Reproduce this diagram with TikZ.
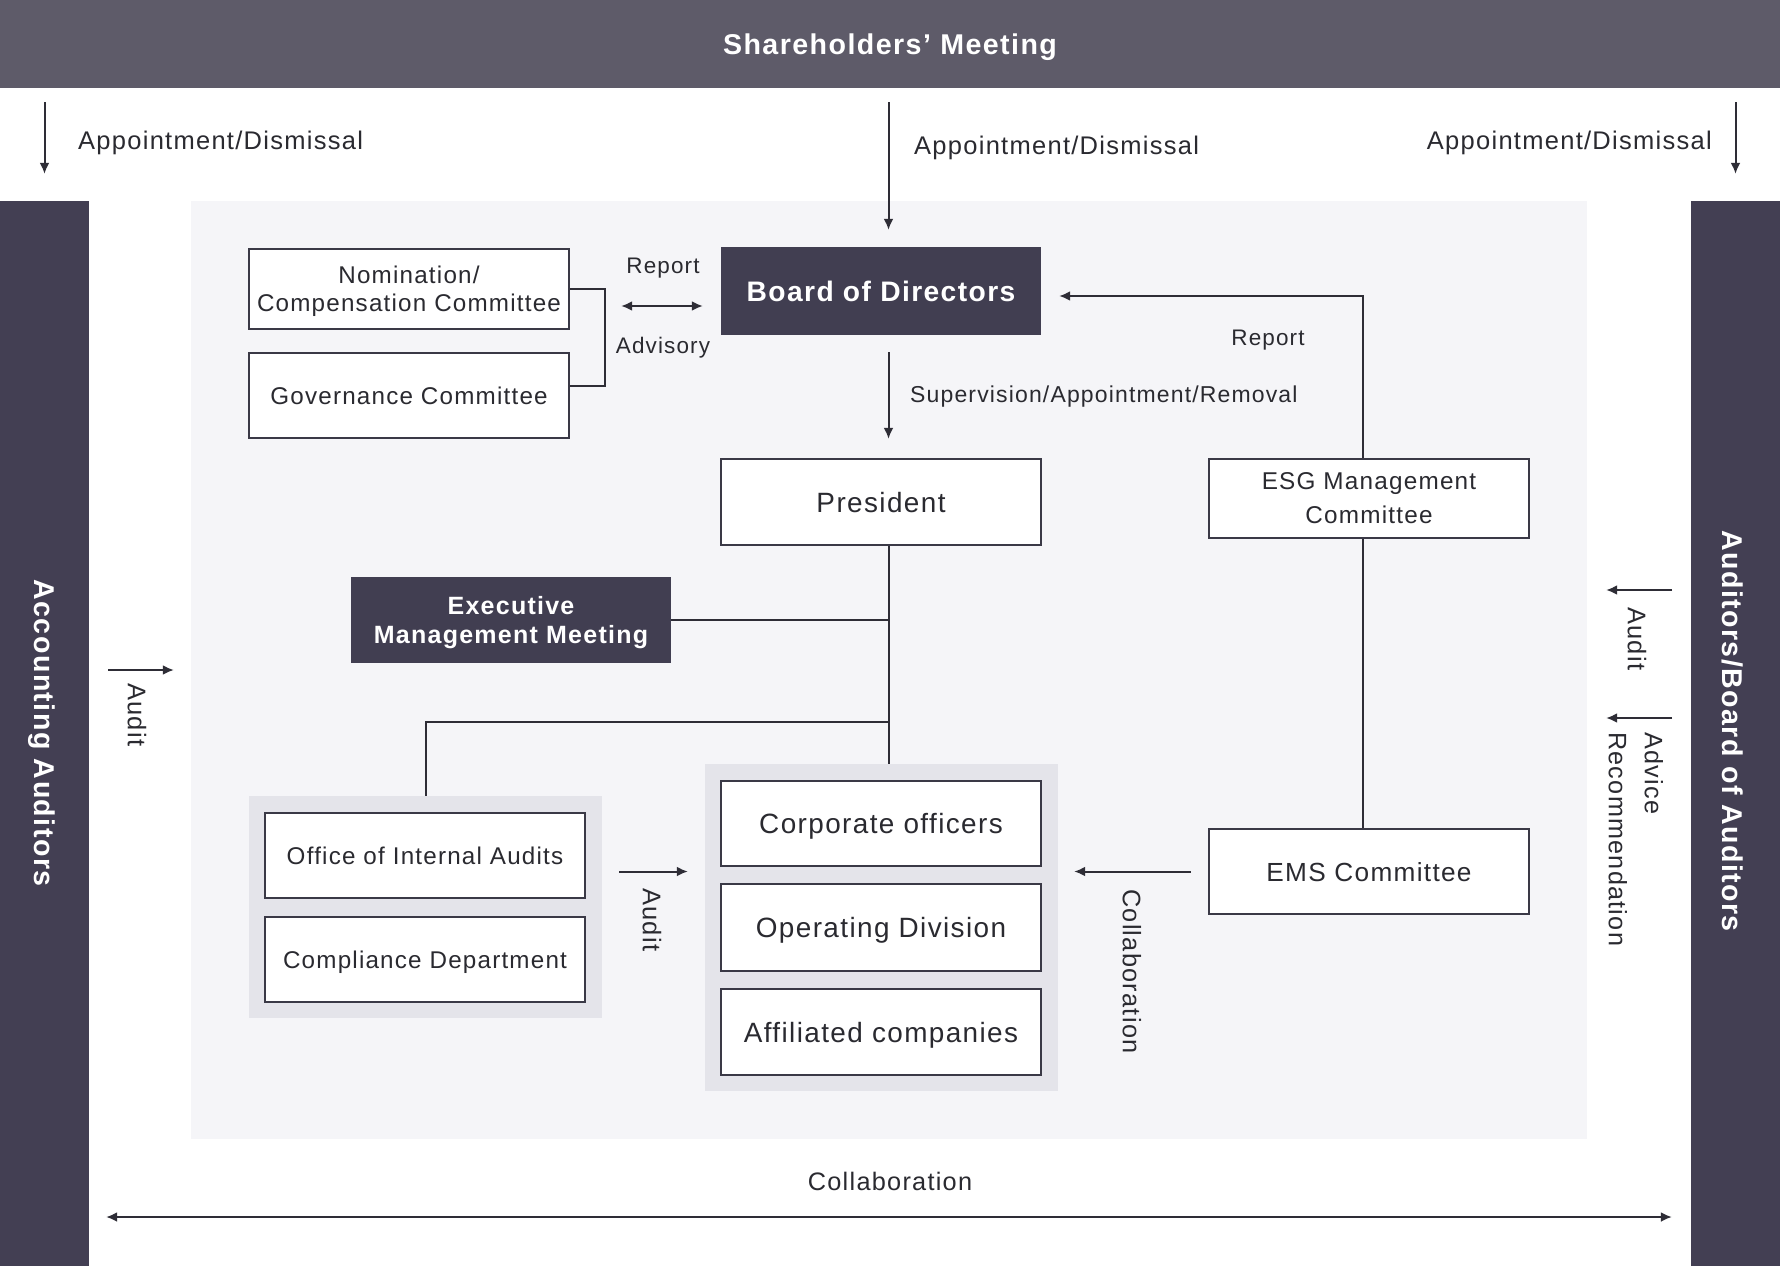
\documentclass[tikz,border=0pt]{standalone}
\usepackage{fontspec}
\setmainfont{Liberation Sans}[LetterSpace=5]
\usetikzlibrary{arrows.meta}
\definecolor{bannerc}{HTML}{5E5B69}
\definecolor{sidec}{HTML}{433F53}
\definecolor{darkc}{HTML}{413E51}
\definecolor{panelc}{HTML}{F5F5F8}
\definecolor{grpc}{HTML}{E4E4EA}
\definecolor{edgec}{HTML}{3A3946}
\definecolor{linec}{HTML}{2E2D36}
\definecolor{inkc}{HTML}{2A2A30}
\begin{document}
\begin{tikzpicture}[x=1pt,y=-1pt,
  conn/.style={draw=linec, line width=2pt},
  arr/.style={conn, -{Latex[length=11pt,width=10pt]}},
  darr/.style={conn, {Latex[length=11pt,width=10pt]}-{Latex[length=11pt,width=10pt]}},
  wbox/.style={draw=edgec, line width=2.4pt, fill=white, text=inkc, minimum width=320pt, inner sep=0pt, align=center, text depth=0pt},
  bigtxt/.style={font=\fontsize{27.9}{32}\selectfont},
  smtxt/.style={font=\fontsize{24.2}{28}\selectfont},
  dbox/.style={fill=darkc, text=white, minimum width=320pt, inner sep=0pt, align=center, text depth=0pt},
  grpbox/.style={fill=grpc, inner sep=0pt},
  sidebox/.style={fill=sidec, minimum width=89pt, minimum height=1065pt, inner sep=0pt},
  sidetxt/.style={rotate=-90, text=white, inner sep=0pt, font=\bfseries\fontsize{28.6}{32}\selectfont},
  lbl/.style={text=inkc, inner sep=0pt, text depth=0pt, font=\fontsize{22.5}{27}\selectfont},
  toplbl/.style={lbl, font=\fontsize{25.5}{30}\selectfont},
  collbl/.style={lbl, font=\fontsize{25.3}{30}\selectfont},
  vlbl/.style={lbl, rotate=-90, anchor=west},
  albl/.style={vlbl, font=\fontsize{25.5}{36}\selectfont},
]
\fill[white] (0,0) rectangle (1780,1266);
\useasboundingbox (0,0) rectangle (1780,1266);

% frame
\node[minimum width=1780pt, minimum height=88pt, fill=bannerc, inner sep=0pt, text=white, text depth=0pt,
      font=\bfseries\fontsize{28.6}{32}\selectfont] (sh) at (890,44) {Shareholders’ Meeting};
\node[sidebox] (acc) at (44.5,733.5) {};
\node[sidetxt] (acct) at (42,733) {Accounting Auditors};
\node[sidebox] (aud) at (1735.5,733.5) {};
\node[sidetxt] (audt) at (1733,731) {Auditors/Board of Auditors};
\node[fill=panelc, minimum width=1396pt, minimum height=938pt, inner sep=0pt] (panel) at (889,670) {};

% groups
\node[grpbox, minimum width=353pt, minimum height=222pt] (lgrp) at (425.5,907) {};
\node[grpbox, minimum width=353pt, minimum height=327pt] (cgrp) at (881.5,927.5) {};

% boxes
\node[wbox, smtxt, minimum height=80pt] (nom) at (409,289) {Nomination/\\Compensation Committee};
\node[wbox, smtxt, minimum height=85pt] (gov) at (409,395.5) {Governance Committee};
\node[dbox, font=\bfseries\fontsize{28.2}{32}\selectfont, minimum height=88pt] (board) at (881,291) {Board of Directors};
\node[wbox, bigtxt, minimum height=86pt] (pres) at (881,502) {President};
\node[wbox, font=\fontsize{24.3}{34}\selectfont, minimum height=79pt] (esg) at (1369,498.5) {ESG Management\\Committee};
\node[dbox, font=\bfseries\fontsize{25}{29}\selectfont, minimum height=86pt] (exec) at (511,620) {Executive\\Management Meeting};
\node[wbox, smtxt, minimum height=85pt] (oia) at (425,855.5) {Office of Internal Audits};
\node[wbox, smtxt, minimum height=85pt] (comp) at (425,959.5) {Compliance Department};
\node[wbox, bigtxt, minimum height=85pt] (corp) at (881,823.5) {Corporate officers};
\node[wbox, bigtxt, minimum height=87pt] (opd) at (881,927.5) {Operating Division};
\node[wbox, bigtxt, minimum height=86pt] (aff) at (881,1032) {Affiliated companies};
\node[wbox, font=\fontsize{26.2}{30}\selectfont, minimum height=85pt] (ems) at (1369,871.5) {EMS Committee};

% top arrows
\coordinate (trunk) at (888.5,0);
\draw[arr] ([yshift=-14pt]sh.south -| acc.center) -- ([yshift=27pt]acc.north);
\draw[arr] ([yshift=-14pt]sh.south -| trunk) -- ([yshift=17pt]board.north -| trunk);
\draw[arr] ([yshift=-14pt]sh.south -| aud.center) -- ([yshift=27pt]aud.north);
\node[toplbl, anchor=west] (l1) at (78,140) {Appointment/Dismissal};
\node[toplbl, anchor=west] (l2) at (914,145) {Appointment/Dismissal};
\node[toplbl, anchor=east] (l3) at (1712,140) {Appointment/Dismissal};

% committees
\draw[conn] (nom.east) -- ++(35,0) |- ([yshift=10pt]gov.east);
\draw[darr] ([xshift=51pt,yshift=-17pt]nom.east) -- ([xshift=-18pt,yshift=-15pt]board.west);
\node[lbl] (rep1) at (663,266) {Report};
\node[lbl] (adv) at (663,345) {Advisory};

% ESG report
\draw[arr] ([xshift=-6pt]esg.north) |- ([xshift=18pt,yshift=-5pt]board.east);
\node[lbl] (rep2) at (1268,338) {Report};

% supervision
\draw[arr] ([yshift=-17pt]board.south -| trunk) -- ([yshift=19pt]pres.north -| trunk);
\node[lbl, anchor=west, font=\fontsize{23}{27}\selectfont] (sup) at (910,394) {Supervision/Appointment/Removal};

% trunk
\draw[conn] (exec.east) -- (exec.east -| trunk);
\draw[conn] (pres.south -| trunk) -- (cgrp.north -| trunk);
\coordinate (br) at (888.5,722);
\draw[conn] (br) -| (lgrp.north);
\draw[conn] ([xshift=-6pt]esg.south) -- ([xshift=-6pt]ems.north);

% collaboration / audit
\draw[arr] ([xshift=-17pt]ems.west) -- ([xshift=16pt]ems.west -| cgrp.east);
\node[vlbl, font=\fontsize{25.3}{30}\selectfont] (col1) at (1132,889) {Collaboration};
\draw[arr] ([xshift=17pt]ems.west -| lgrp.east) -- ([xshift=-17pt]ems.west -| cgrp.west);
\node[albl] (aud2) at (652,888) {Audit};

% side arrows
\coordinate (la) at (108,670);
\draw[arr] (la) -- ([xshift=-17pt]la -| panel.west);
\node[albl] (aud1) at (137,683) {Audit};
\coordinate (ra) at (1672,590);
\draw[arr] (ra) -- ([xshift=19pt]ra -| panel.east);
\node[albl] (aud3) at (1637,607) {Audit};
\coordinate (rb) at (1672,718);
\draw[arr] (rb) -- ([xshift=19pt]rb -| panel.east);
\node[albl, align=left, font=\fontsize{25.2}{36}\selectfont] (advrec) at (1636,732) {Advice\\Recommendation};

% bottom
\coordinate (bcy) at (0,1217);
\draw[darr] ([xshift=17pt]acc.east |- bcy) -- ([xshift=-19pt]aud.west |- bcy);
\node[collbl] (colb) at (890,1181) {Collaboration};
\end{tikzpicture}
\end{document}
